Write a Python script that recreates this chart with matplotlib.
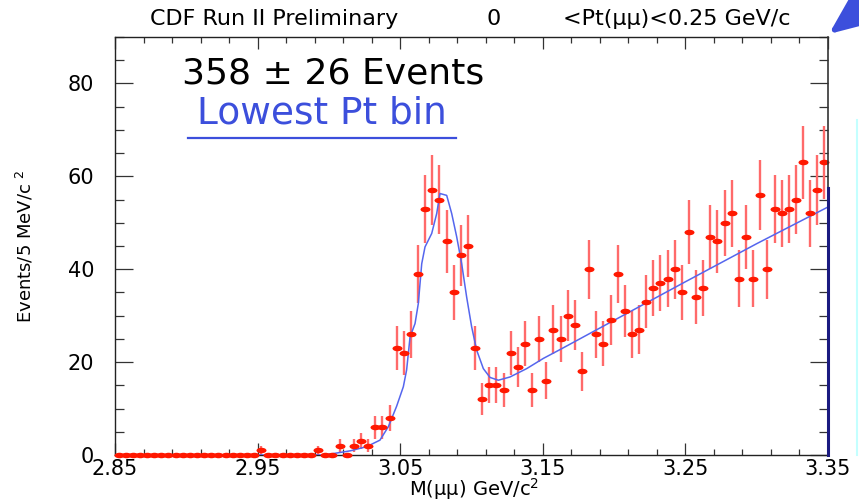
import numpy as np
import matplotlib
matplotlib.use('Agg')
from matplotlib import pyplot as plt
from matplotlib.path import Path
from matplotlib.lines import Line2D
from matplotlib.ticker import MultipleLocator

# dimuon mass histogram, 5 MeV bins from 2.85 to 3.35 GeV
BIN_LOW = 2.85
BIN_WIDTH = 0.005
counts = [0] * 20 + [1] + [0] * 7 + [1, 0, 0, 2, 0, 2, 3, 2, 6, 6, 8,
          23, 22, 26, 39, 53, 57, 55, 46, 35, 43, 45, 23, 12, 15, 15, 14,
          22, 19, 24, 14, 25, 16, 27, 25, 30, 28, 18, 40, 26, 24, 29, 39,
          31, 26, 27, 33, 36, 37, 38, 40, 35, 48, 34, 36, 47, 46, 50, 52,
          38, 47, 38, 56, 40, 53, 52, 53, 55, 63, 52, 57, 63]

# fit curve
fit_mass = [2.850, 2.995, 3.003, 3.015, 3.0265, 3.0358, 3.0417, 3.0475,
            3.0522, 3.0545, 3.0569, 3.0604, 3.0627, 3.0651, 3.0674, 3.0721,
            3.0756, 3.0779, 3.0826, 3.0861, 3.0896, 3.0931, 3.0966, 3.1001,
            3.1036, 3.1083, 3.1130, 3.1188, 3.1270, 3.1387, 3.1504, 3.1621,
            3.20, 3.25, 3.30, 3.35]
fit_value = [0, 0, 0.3, 0.9, 1.8, 3.2, 6.1, 10.5,
             14.7, 18.3, 25.4, 28.3, 32.6, 41.2, 44.8, 47.7,
             52.0, 56.3, 55.9, 52.0, 47.0, 41.2, 34.0, 27.6,
             22.6, 18.6, 16.7, 16.1, 16.8, 18.6, 20.8, 22.7,
             29.0, 37.3, 45.5, 53.4]

x_ticks = [2.85, 2.95, 3.05, 3.15, 3.25, 3.35]
x_tick_labels = ['2.85', '2.95', '3.05', '3.15', '3.25', '3.35']
y_ticks = [0, 20, 40, 60, 80]

W, H = 859, 501
BLUE = '#3c4fdc'

fig = plt.figure(figsize=(W / 100, H / 100), dpi=100)
ax = fig.add_axes([115 / W, 1 - 455 / H, (828 - 115) / W, (455 - 37) / H])

counts = np.array(counts, dtype=float)
centers = BIN_LOW + BIN_WIDTH * (np.arange(len(counts)) + 0.5)
err = np.sqrt(counts)
nz = counts > 0

circle = Path.unit_circle()
ellipse = Path(circle.vertices * [1.0, 0.55], circle.codes)

ax.vlines(centers[nz], counts[nz] - err[nz], counts[nz] + err[nz],
          color='#ff6a6a', lw=1.7, zorder=2)
ax.plot(fit_mass, fit_value, color='#5566ee', lw=1.1, zorder=3)
ax.plot(centers, counts, ls='none', marker=ellipse, ms=7.2,
        color='#ff1800', mec='none', clip_on=False, zorder=4)

ax.set_xlim(2.85, 3.35)
ax.set_ylim(0, 90)
ax.set_xticks(x_ticks)
ax.set_xticklabels(x_tick_labels)
ax.set_yticks(y_ticks)
ax.xaxis.set_minor_locator(MultipleLocator(0.02, offset=0.01))
ax.yaxis.set_minor_locator(MultipleLocator(5))

ax.tick_params(axis='both', which='both', direction='in', top=True, right=True,
               width=0.9, color='#333333')
ax.tick_params(axis='x', which='major', length=8.5, pad=3, labelsize=15)
ax.tick_params(axis='x', which='minor', length=4)
ax.tick_params(axis='y', which='major', length=13, pad=15, labelsize=15)
ax.tick_params(axis='y', which='minor', length=6.5)

for side in ['left', 'bottom', 'top']:
    ax.spines[side].set_linewidth(1.0)
    ax.spines[side].set_color('#222222')
ax.spines['right'].set_visible(False)
ax.add_line(Line2D([1, 1], [0.639, 1], transform=ax.transAxes, color='#333333',
                   lw=1.2, clip_on=False, zorder=5))
ax.add_line(Line2D([1, 1], [0, 0.639], transform=ax.transAxes, color='#1a1a80',
                   lw=2.2, clip_on=False, zorder=5))

ax.set_xlabel('M(μμ) GeV/c$^{2}$', fontsize=14)
ax.xaxis.set_label_coords(0.503, -0.05)
ax.set_ylabel('Events/5 MeV/c $^{2}$', fontsize=13)
ax.yaxis.set_label_coords(-0.111, 0.5)

# title pieces
fig.text(274 / W, 1 - 25 / H, 'CDF Run II Preliminary', fontsize=16,
         ha='center', va='baseline')
fig.text(494 / W, 1 - 25 / H, '0', fontsize=16, ha='center', va='baseline')
fig.text(677 / W, 1 - 25 / H, '<Pt(μμ)<0.25 GeV/c', fontsize=16,
         ha='center', va='baseline')

fig.text(333 / W, 1 - 84 / H, '358 ± 26 Events', fontsize=26,
         ha='center', va='baseline')
fig.text(322 / W, 1 - 124 / H, 'Lowest Pt bin', fontsize=27, color=BLUE,
         ha='center', va='baseline')
fig.add_artist(Line2D([188 / W, 456 / W], [1 - 138 / H, 1 - 138 / H],
                      color=BLUE, lw=1.6))

# slide decorations
ax.annotate('', xy=(829, H - 34), xycoords='figure pixels',
            xytext=(889, H + 12), textcoords='figure pixels',
            arrowprops=dict(arrowstyle='-|>,head_length=1.3,head_width=0.55',
                            mutation_scale=20, color=BLUE, lw=4,
                            shrinkA=0, shrinkB=0),
            annotation_clip=False)
fig.add_artist(Line2D([857 / W, 857 / W], [1 - 120 / H, 1 - 455 / H],
                      color='#c4ffff', lw=1.5))

plt.savefig('out.png', dpi=100)
